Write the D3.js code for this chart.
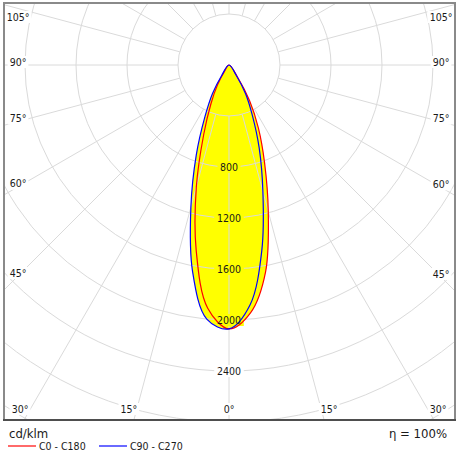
<!DOCTYPE html>
<html>
<head>
<meta charset="utf-8">
<script src="https://cdn.jsdelivr.net/npm/d3@7"></script>
<style>
  body { margin: 0; background: #fff; }
  text { font-family: "DejaVu Sans Condensed", "Liberation Sans", sans-serif; fill: #1a1a1a; }
</style>
</head>
<body>
<div id="chart"></div>
<script>
// Luminous intensity (cd/klm) per gamma angle
const gammaDeg = [0, 5, 10, 15, 20, 25, 30, 35, 40];
const c0   = [2070, 1950, 1650, 1190, 815, 546, 320, 120, 0];
const c180 = [2070, 1915, 1480, 990, 580, 335, 180, 60, 0];
const c90  = [2070, 1890, 1480, 1027, 692, 430, 260, 100, 0];
const c270 = [2070, 2000, 1645, 1155, 750, 445, 260, 100, 0];

const ringValues = [400, 800, 1200, 1600, 2000, 2400, 2800, 3200];
const ringLabels = [800, 1200, 1600, 2000, 2400];
const angleLabels = [0, 15, 30, 45, 60, 75, 90, 105];

const width = 459, height = 455;
const box = { left: 4, top: 3, right: 455, bottom: 420 };
const cx = 229, cy = 65;

const svg = d3.select("#chart").append("svg").attr("width", width).attr("height", height);
svg.append("rect").attr("width", width).attr("height", height).attr("fill", "#fff");

const r = d3.scaleLinear().domain([0, 2400]).range([0, 306]);
const rad = d => d * Math.PI / 180;

svg.append("clipPath").attr("id", "clip").append("rect")
    .attr("x", box.left).attr("y", box.top)
    .attr("width", box.right - box.left).attr("height", box.bottom - box.top);

const plot = svg.append("g").attr("clip-path", "url(#clip)");
const g = plot.append("g").attr("transform", `translate(${cx},${cy})`);

// one closed outline per C-plane pair: left half then right half
function planePoints(left, right) {
    const pts = [];
    for (let i = gammaDeg.length - 1; i >= 1; i--) pts.push([Math.PI + rad(gammaDeg[i]), r(left[i])]);
    pts.push([Math.PI, r((left[0] + right[0]) / 2)]);
    for (let i = 1; i < gammaDeg.length - 1; i++) pts.push([Math.PI - rad(gammaDeg[i]), r(right[i])]);
    return pts;
}
const line = d3.lineRadial().angle(d => d[0]).radius(d => d[1]).curve(d3.curveCatmullRomClosed.alpha(0.5));
const planes = [
    { name: "C0 - C180", pts: planePoints(c180, c0), color: "#ff0000", legend: "#ff6a6a" },
    { name: "C90 - C270", pts: planePoints(c270, c90), color: "#0000ff", legend: "#6a6aff" }
];

// yellow fill
g.selectAll(".fill").data(planes).enter().append("path")
    .attr("d", d => line(d.pts)).attr("fill", "#ffff00").attr("stroke", "none");

// grid
const gridColor = "#dadada";
g.selectAll(".ring").data(ringValues).enter().append("circle")
    .attr("r", d => r(d)).attr("fill", "none").attr("stroke", gridColor).attr("stroke-width", 1);
g.selectAll(".spoke").data(d3.range(0, 360, 15)).enter().append("line")
    .attr("x1", d => r(400) * Math.sin(rad(d))).attr("y1", d => r(400) * Math.cos(rad(d)))
    .attr("x2", d => 700 * Math.sin(rad(d))).attr("y2", d => 700 * Math.cos(rad(d)))
    .attr("stroke", gridColor).attr("stroke-width", 1);

// ring value label backgrounds
const peak = d3.min([c0[0], c180[0], c90[0], c270[0]]);
g.selectAll(".rbg").data(ringLabels).enter().append("rect")
    .attr("x", d => -String(d).length * 3.2 - 2).attr("y", d => r(d) - 6)
    .attr("width", d => String(d).length * 6.4 + 4).attr("height", 12)
    .attr("fill", d => d < peak ? "#ffff00" : "#fff");

// curves
g.selectAll(".curve").data(planes).enter().append("path")
    .attr("d", d => line(d.pts)).attr("fill", "none")
    .attr("stroke", d => d.color).attr("stroke-width", 1.2);

g.selectAll(".rlabel").data(ringLabels).enter().append("text")
    .attr("x", 0).attr("y", d => r(d)).attr("dy", "0.35em")
    .attr("text-anchor", "middle").style("font-size", "10.5px").text(d => d);

// angle labels at the frame
function labelPos(a, side) {
    const s = side * Math.sin(rad(a)), c = Math.cos(rad(a));
    if (a === 0) return [cx, 409];
    const xEdge = side < 0 ? box.left + 14 : box.right - 14;
    let t = (xEdge - cx) / s;
    let y = cy + t * c;
    if (y <= 409) return [xEdge, Math.max(y - 3, 17)];
    t = (box.bottom - cy) / c;
    let x = cx + t * s;
    x = side < 0 ? Math.max(x - 5, 20) : Math.min(x + 5, 438);
    return [x, 409];
}
const angleItems = [];
angleLabels.forEach(a => {
    angleItems.push({ a, p: labelPos(a, -1) });
    if (a !== 0) angleItems.push({ a, p: labelPos(a, 1) });
});
const al = svg.append("g");
al.selectAll("rect").data(angleItems).enter().append("rect")
    .attr("x", d => d.p[0] - (String(d.a).length * 6.4 + 8) / 2).attr("y", d => d.p[1] - 6)
    .attr("width", d => String(d.a).length * 6.4 + 8).attr("height", 12).attr("fill", "#fff");
al.selectAll("text").data(angleItems).enter().append("text")
    .attr("x", d => d.p[0]).attr("y", d => d.p[1]).attr("dy", "0.35em")
    .attr("text-anchor", "middle").style("font-size", "10.5px").text(d => d.a + "°");

// frame
svg.append("rect").attr("x", box.left).attr("y", box.top)
    .attr("width", box.right - box.left).attr("height", box.bottom - box.top)
    .attr("fill", "none").attr("stroke", "#8a8a8a").attr("stroke-width", 2);
svg.append("line").attr("x1", box.left - 1).attr("x2", box.right + 1)
    .attr("y1", box.bottom).attr("y2", box.bottom).attr("stroke", "#3a3a3a").attr("stroke-width", 1.5);

// units and efficiency
svg.append("text").attr("x", 9).attr("y", 438).style("font-size", "13px").text("cd/klm");
svg.append("text").attr("x", 447).attr("y", 438).attr("text-anchor", "end").style("font-size", "13px").text("η = 100%");

// legend
const lg = svg.selectAll(".legend").data(planes).enter().append("g")
    .attr("transform", (d, i) => `translate(${8 + i * 91},446)`);
lg.append("line").attr("x1", 0).attr("x2", 28).attr("y1", 0).attr("y2", 0)
    .attr("stroke", d => d.legend).attr("stroke-width", 2);
lg.append("text").attr("x", 31).attr("y", 0).attr("dy", "0.38em").style("font-size", "10.5px").text(d => d.name);
</script>
</body>
</html>
